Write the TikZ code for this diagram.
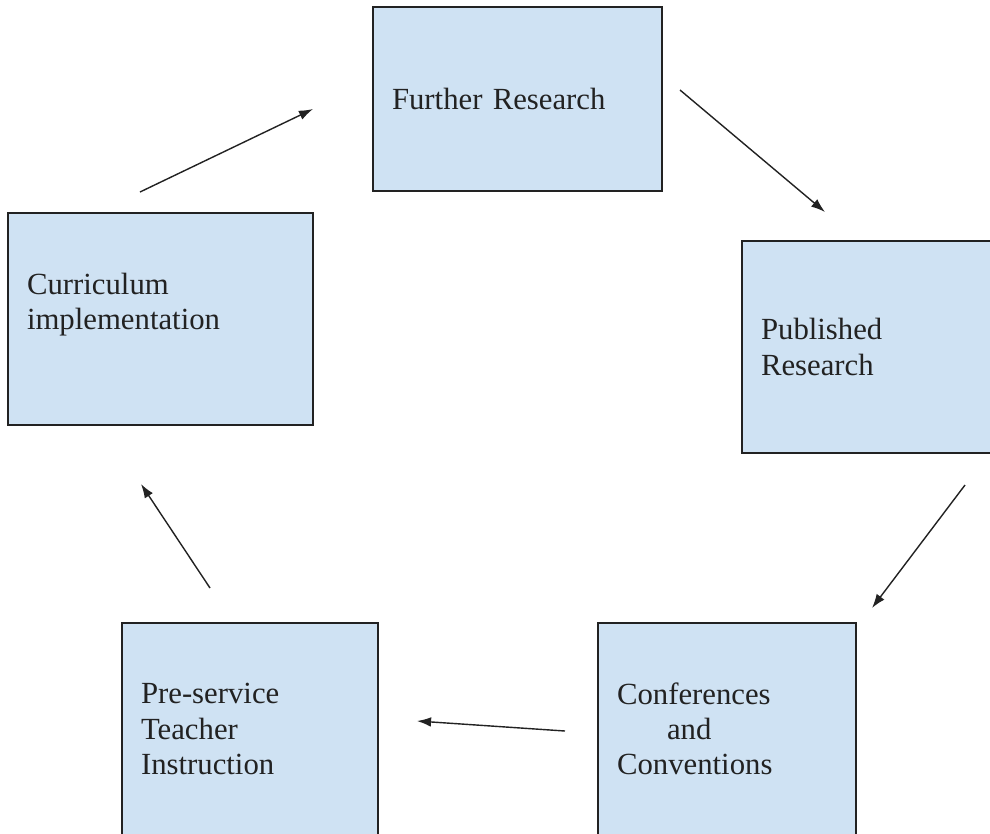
\documentclass[tikz,border=0pt]{standalone}
\usepackage{fontspec}
\setmainfont{Liberation Serif}
\usetikzlibrary{arrows.meta}
\definecolor{boxblue}{HTML}{CFE2F3}
\definecolor{inkgray}{HTML}{222222}
\begin{document}
\begin{tikzpicture}[x=0.02cm, y=-0.02cm]
		\tikzstyle{stage}=[draw=inkgray, fill=boxblue, text=inkgray, line width=0.85pt, align=left, inner xsep=0.38cm, minimum height=4.24cm, font=\fontsize{17.5}{20}\selectfont]
		\useasboundingbox (0,0) rectangle (990,833);
		\clip (0,0) rectangle (990,833);
		\node[stage, text width=5.02cm, minimum height=3.68cm](further)at(517.5,99){Further Research};
		\node[stage, text width=4.36cm](published)at(870,347){Published\\Research};
		\node[stage, text width=4.40cm](conf)at(727,729){Conferences\\\hspace{1cm}and\\Conventions};
		\node[stage, text width=4.36cm](preservice)at(250,729){Pre-service\\Teacher\\Instruction};
		\node[stage, text width=5.34cm](curriculum)at(160.5,319){Curriculum\\implementation\\~};
		% arrow ends
		\coordinate (a1)at(140,192); \coordinate (b1)at(313,109);
		\coordinate (a2)at(680,90);  \coordinate (b2)at(825,212);
		\coordinate (a3)at(965,485); \coordinate (b3)at(872,608);
		\coordinate (a4)at(565,731); \coordinate (b4)at(417,721);
		\coordinate (a5)at(210,588); \coordinate (b5)at(141,484);
		\path[-{Latex[length=8pt,width=5.5pt]},line width=0.8pt,color=inkgray] (a1) edge (b1)
		(a2) edge (b2)
		(a3) edge (b3)
		(a4) edge (b4)
		(a5) edge (b5);
		\end{tikzpicture}
\end{document}
